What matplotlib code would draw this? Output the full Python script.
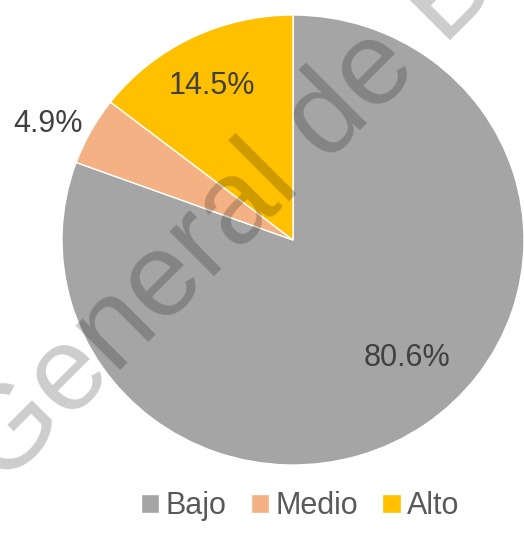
import numpy as np
import matplotlib
matplotlib.use("Agg")
import matplotlib.pyplot as plt

plt.rcParams['font.family'] = ['Liberation Sans', 'DejaVu Sans']

categories = ['Bajo', 'Medio', 'Alto']
values = [80.6, 4.9, 14.5]
colors = ['#A5A5A5', '#F4B183', '#FFC000']

# label placement (radius factor, angle shift in degrees)
label_dist = [0.72, 1.18, 0.77]
label_shift = [8.5, 3.0, 1.0]


def plot():
    fig = plt.figure(figsize=(5.24, 5.40), dpi=100)
    ax = fig.add_axes([0, 0, 1, 1])

    wedges, _ = ax.pie(values, colors=colors, startangle=90, counterclock=False,
                       radius=1.0, wedgeprops=dict(edgecolor='white', linewidth=1))

    # the source picture is slightly wider than tall
    ax.set_aspect('auto')
    ax.set_xlim(-293 / 231, (524 - 293) / 231)
    ax.set_ylim((240 - 540) / 225, 240 / 225)
    ax.axis('off')

    for w, v, r, s in zip(wedges, values, label_dist, label_shift):
        ang = np.deg2rad((w.theta1 + w.theta2) / 2 + s)
        ax.text(r * np.cos(ang), r * np.sin(ang), f"{v:.1f}%", ha='center', va='center',
                fontsize=22, color='#404040')

    fig.legend(wedges, categories, loc='center', bbox_to_anchor=(300 / 524, 1 - 506 / 540),
               ncol=3, frameon=False, fontsize=22, handlelength=0.6, handleheight=0.6,
               handletextpad=0.2, columnspacing=0.8, labelcolor='#595959')

    # watermark
    fig.text(2 / 524, 1 - 488 / 540, "General de Bibliotecas", rotation=45,
             rotation_mode='anchor', ha='left', va='baseline', fontsize=86,
             color='black', alpha=0.2)

    fig.savefig("out.png", dpi=100)


if __name__ == "__main__":
    plot()
